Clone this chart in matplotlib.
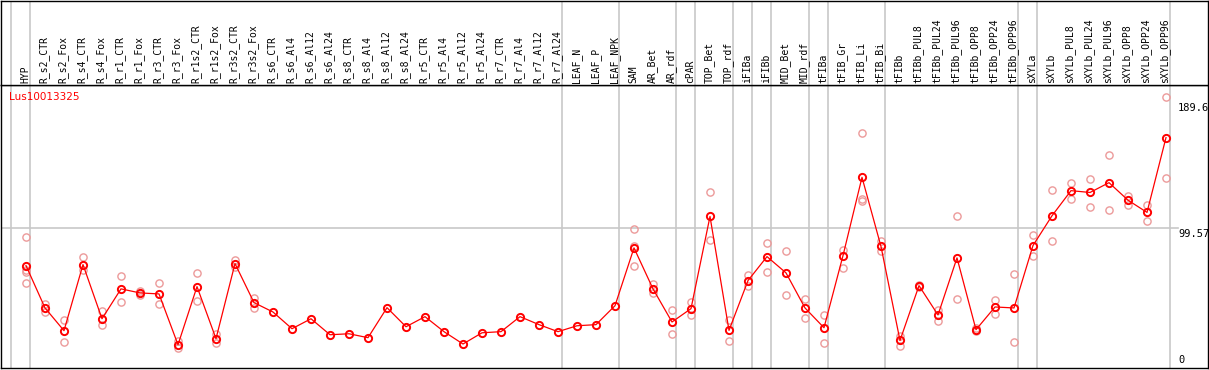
import matplotlib
matplotlib.use('Agg')
import matplotlib.pyplot as plt
import matplotlib.transforms as mtransforms

# ---------------- data ----------------
gene = "Lus10013325"
samples = ["HYP", "R_s2_CTR", "R_s2_Fox", "R_s4_CTR", "R_s4_Fox", "R_r1_CTR", "R_r1_Fox",
           "R_r3_CTR", "R_r3_Fox", "R_r1s2_CTR", "R_r1s2_Fox", "R_r3s2_CTR", "R_r3s2_Fox",
           "R_s6_CTR", "R_s6_Al4", "R_s6_Al12", "R_s6_Al24", "R_s8_CTR", "R_s8_Al4",
           "R_s8_Al12", "R_s8_Al24", "R_r5_CTR", "R_r5_Al4", "R_r5_Al12", "R_r5_Al24",
           "R_r7_CTR", "R_r7_Al4", "R_r7_Al12", "R_r7_Al24", "LEAF_N", "LEAF_P", "LEAF_NPK",
           "SAM", "AR_Bet", "AR_rdf", "cPAR", "TOP_Bet", "TOP_rdf", "iFIBa", "iFIBb",
           "MID_Bet", "MID_rdf", "tFIBa", "tFIB_Gr", "tFIB_Li", "tFIB_Bi", "tFIBb",
           "tFIBb_PUL8", "tFIBb_PUL24", "tFIBb_PUL96", "tFIBb_OPP8", "tFIBb_OPP24",
           "tFIBb_OPP96", "sXYLa", "sXYLb", "sXYLb_PUL8", "sXYLb_PUL24", "sXYLb_PUL96",
           "sXYLb_OPP8", "sXYLb_OPP24", "sXYLb_OPP96"]

means = [72.5, 42.3, 26.1, 73.2, 34.6, 55.9, 53.0, 52.3, 16.1, 57.5, 20.4, 73.9, 46.1,
         39.4, 27.5, 34.6, 23.2, 23.9, 21.1, 42.5, 28.9, 36.1, 25.4, 16.6, 24.6, 25.4,
         36.1, 30.4, 25.4, 29.6, 30.4, 43.9,
         85.1, 55.9, 32.3, 41.8, 107.5, 26.3, 61.8, 78.9, 67.3, 42.3, 28.2, 79.6, 135.4, 86.1,
         19.1, 58.2, 37.3, 78.0, 26.8, 43.0, 42.3, 86.8, 108.0, 125.9, 124.6, 131.6, 119.1,
         110.4, 163.7]

replicates = [
    [93.2, 69.6, 67.7, 60.1],
    [45.4, 39.1],
    [33.9, 18.2],
    [78.9, 69.6],
    [39.9, 30.1],
    [65.4, 46.6],
    [54.1, 51.3],
    [60.1, 45.4],
    [18.4, 13.7],
    [67.3, 47.5],
    [23.8, 17.3],
    [76.3, 71.6],
    [49.1, 42.3],
    [], [], [], [], [], [], [], [], [], [], [], [], [], [], [], [], [], [], [],
    [98.7, 86.8, 72.3],
    [59.6, 53.0],
    [41.1, 23.7],
    [46.8, 37.3],
    [124.6, 90.4],
    [33.9, 18.7],
    [65.6, 58.0],
    [88.9, 68.2],
    [83.0, 51.8],
    [48.7, 35.1],
    [37.5, 17.5],
    [83.7, 71.1],
    [166.8, 120.1, 118.2],
    [89.9, 83.0],
    [22.0, 15.4],
    [57.5, 58.9],
    [41.1, 33.0],
    [107.5, 48.7],
    [27.7, 26.1],
    [47.7, 38.0],
    [66.6, 18.0],
    [94.6, 79.4],
    [126.1, 90.1],
    [131.1, 119.9],
    [133.9, 114.6],
    [151.1, 112.3],
    [122.0, 115.9],
    [115.4, 104.6],
    [192.5, 134.6],
]

# index of last sample in each group (-1 = leading border)
group_ends = [-1, 0, 28, 31, 34, 35, 37, 38, 39, 41, 42, 45, 52, 53, 60]
ytick_values = [0, 99.57, 189.6]
ytick_labels = ["0", "99.57", "189.6"]

# ---------------- figure ----------------
W, H = 1209, 370
fig = plt.figure(figsize=(W / 100, H / 100), dpi=100)


def px_rect(x0, y0, x1, y1):
    return [x0 / W, 1 - y1 / H, (x1 - x0) / W, (y1 - y0) / H]


ax = fig.add_axes(px_rect(1, 85, 1208, 368))
hx = fig.add_axes(px_rect(1, 0.5, 1208, 85), sharex=ax)

GRAY = '#c8c8c8'
RED = '#ff0000'
PINK = '#ec9a9a'

for a in (ax, hx):
    a.set_xticks([])
    a.set_yticks([])
    for s in a.spines.values():
        s.set_color('black')
        s.set_linewidth(1.0)
    a.set_facecolor('white')

ax.set_xlim(-25 / 19, 1182 / 19)
ax.set_ylim(-0.5, 201.2)
hx.set_ylim(0, 1)

# separators
for b in group_ends:
    ax.axvline(b + 0.22, color=GRAY, lw=1.2, zorder=0)
    hx.axvline(b + 0.22, color=GRAY, lw=1.2, zorder=0)

# mid gridline
ax.axhline(ytick_values[1], xmin=0, xmax=0.975, color=GRAY, lw=1.2, zorder=0)

# replicates
for i, vals in enumerate(replicates):
    if vals:
        ax.plot([i] * len(vals), vals, linestyle='none', marker='o', ms=5.2,
                mfc='none', mec=PINK, mew=1.0, zorder=2)

# mean line
x = list(range(len(means)))
ax.plot(x, means, color=RED, lw=0.9, marker='o', ms=5.2, mfc='none', mec=RED,
        mew=1.4, zorder=3)

# sample labels
tr = mtransforms.blended_transform_factory(hx.transData, hx.transAxes)
for i, name in enumerate(samples):
    hx.text(i - 0.05, 0.025, name, rotation=90, ha='center', va='bottom',
            transform=tr, fontsize=7, family='DejaVu Sans Mono', color='black')

# right-hand value labels
ytr = mtransforms.blended_transform_factory(ax.transAxes, ax.transData)
for v, lab in zip(ytick_values, ytick_labels):
    if v == 0:
        t = mtransforms.offset_copy(ytr, fig=fig, y=2.5, units='dots')
        ax.text(0.9751, v, lab, transform=t, ha='left', va='bottom',
                fontsize=7.5, family='DejaVu Sans Mono', clip_on=False)
    else:
        t = mtransforms.offset_copy(ytr, fig=fig, y=-1.5, units='dots')
        ax.text(0.9751, v, lab, transform=t, ha='left', va='top',
                fontsize=7.5, family='DejaVu Sans Mono', clip_on=False)

fig.text(9.5 / W, 1 - 97 / H, gene, color=RED, fontsize=7.5, va='center', ha='left',
         family='DejaVu Sans')

fig.savefig('out.png', dpi=100)
